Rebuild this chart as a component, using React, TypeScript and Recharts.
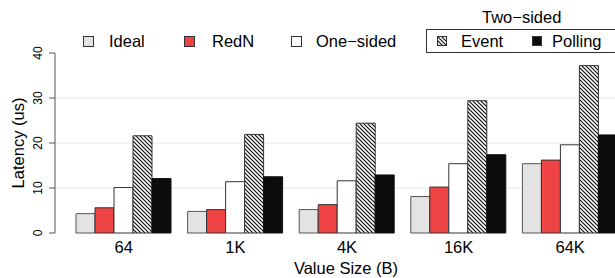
import { BarChart, Bar, XAxis, YAxis, CartesianGrid } from 'recharts'

const categories = ['64', '1K', '4K', '16K', '64K']
const ideal = [4.3, 4.8, 5.2, 8.1, 15.4]
const redn = [5.6, 5.2, 6.3, 10.2, 16.2]
const oneSided = [10.1, 11.4, 11.6, 15.4, 19.6]
const event = [21.6, 21.9, 24.4, 29.4, 37.2]
const polling = [12.1, 12.5, 12.9, 17.4, 21.8]
const yTicks = [0, 10, 20, 30, 40]
const gridValues = [10, 20, 30]

const data = categories.map((name, i) => ({
    name,
    ideal: ideal[i],
    redn: redn[i],
    oneSided: oneSided[i],
    event: event[i],
    polling: polling[i],
}))

const font = '"Liberation Sans", Arial, sans-serif'
const HATCH = 'url(#hatch)'

const series = [
    { key: 'ideal', label: 'Ideal', fill: '#e3e3e3', stroke: '#555' },
    { key: 'redn', label: 'RedN', fill: '#ef4242', stroke: '#333' },
    { key: 'oneSided', label: 'One\u2212sided', fill: '#ffffff', stroke: '#333' },
    { key: 'event', label: 'Event', fill: HATCH, stroke: '#333' },
    { key: 'polling', label: 'Polling', fill: '#0c0c0c', stroke: '#111' },
]

// legend placement (box left, text left)
const legendPos = [
    { box: 83, text: 109, size: 11 },
    { box: 184, text: 212, size: 11 },
    { box: 291, text: 316, size: 11 },
    { box: 437, text: 461, size: 10 },
    { box: 532, text: 552, size: 10 },
]

function YTick({ x, y, payload }: any) {
    const tx = x - 9
    return (
        <text x={tx} y={y} transform={`rotate(-90, ${tx}, ${y})`} textAnchor="middle"
            dominantBaseline="central" fontSize={12} fill="#000" fontFamily={font}>
            {payload.value}
        </text>
    )
}

function LegendOverlay() {
    return (
        <div style={{ position: 'absolute', left: 0, top: 0, width: 615, height: 60, fontFamily: font, fontSize: 16.5, color: '#000' }}>
            <div style={{ position: 'absolute', left: 482, top: 7, lineHeight: '20px' }}>Two{'\u2212'}sided</div>
            <div style={{ position: 'absolute', left: 426, top: 29, width: 250, height: 22, border: '1px solid #333' }} />
            {series.map((s, i) => {
                const p = legendPos[i]
                return (
                    <div key={s.key}>
                        <svg style={{ position: 'absolute', left: p.box, top: 41 - p.size / 2 }} width={p.size} height={p.size}>
                            <rect x={0.5} y={0.5} width={p.size - 1} height={p.size - 1} fill={s.fill} stroke="#333" strokeWidth={1} />
                        </svg>
                        <div style={{ position: 'absolute', left: p.text, top: 31, lineHeight: '20px', whiteSpace: 'nowrap' }}>{s.label}</div>
                    </div>
                )
            })}
        </div>
    )
}

export default function App() {
    return (
        <div style={{ position: 'absolute', left: 0, top: 0, width: 615, height: 278, overflow: 'hidden', background: '#fff' }}>
            <svg width={0} height={0} style={{ position: 'absolute' }}>
                <defs>
                    <pattern id="hatch" patternUnits="userSpaceOnUse" width={4} height={4}>
                        <rect width={4} height={4} fill="#fff" />
                        <path d="M-1,-1 L5,5 M-1,3 L1,5 M3,-1 L5,1" stroke="#111" strokeWidth={1.2} />
                    </pattern>
                </defs>
            </svg>
            <BarChart
                width={637}
                height={278}
                data={data}
                margin={{ top: 53, right: 0, left: 0, bottom: 0 }}
                barCategoryGap={8}
                barGap={0}
                barSize={19}
            >
                <CartesianGrid vertical={false} horizontalValues={gridValues} stroke="#e6e6e6" />
                <XAxis
                    dataKey="name"
                    interval={0}
                    height={45}
                    axisLine={false}
                    tickLine={false}
                    padding={{ left: 13, right: 11 }}
                    tick={{ fontSize: 16.5, fill: '#000', fontFamily: font }}
                    label={{ value: 'Value Size (B)', position: 'insideBottom', offset: 4, fontSize: 16.5, fill: '#000', fontFamily: font }}
                />
                <YAxis
                    width={55}
                    domain={[0, 40]}
                    ticks={yTicks}
                    tickSize={6}
                    stroke="#555"
                    axisLine={{ stroke: '#555' }}
                    tickLine={{ stroke: '#555' }}
                    tick={<YTick />}
                    label={{ value: 'Latency (us)', angle: -90, position: 'insideLeft', offset: 18, fontSize: 16.5, fill: '#000', fontFamily: font, style: { textAnchor: 'middle' } }}
                />
                {series.map((s) => (
                    <Bar key={s.key} dataKey={s.key} fill={s.fill} stroke={s.stroke} strokeWidth={1} isAnimationActive={false} />
                ))}
            </BarChart>
            <LegendOverlay />
        </div>
    )
}
